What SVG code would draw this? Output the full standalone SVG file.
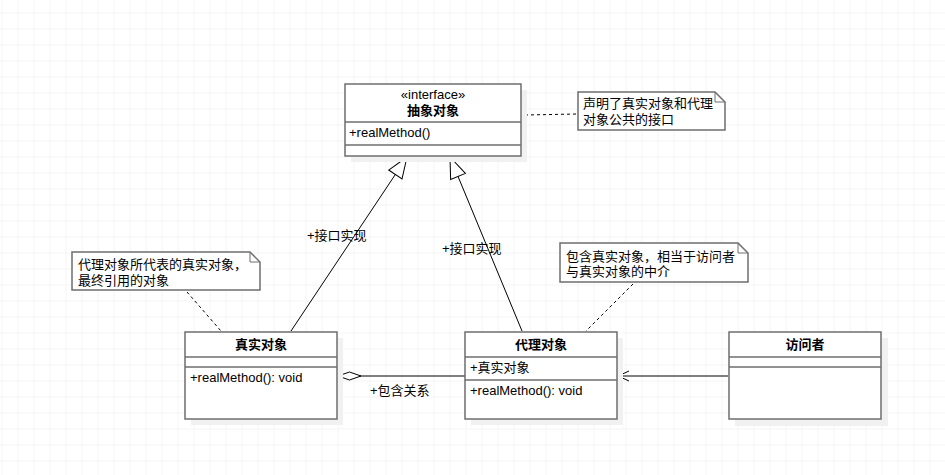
<svg xmlns="http://www.w3.org/2000/svg" width="945" height="475" viewBox="0 0 945 475">
<defs>
<pattern id="grid" x="1.5" y="12.5" width="16" height="16" patternUnits="userSpaceOnUse">
<path d="M0 0 V16 M0 0 H16" fill="none" stroke="#ebebeb" stroke-width="1"/>
</pattern>
<marker id="tri" markerWidth="24" markerHeight="18" refX="22" refY="9" orient="auto" markerUnits="userSpaceOnUse">
<path d="M1 1 L22 9 L1 17 Z" fill="#fff" stroke="#000" stroke-width="1"/>
</marker>
<marker id="open" markerWidth="14" markerHeight="12" refX="12" refY="6" orient="auto" markerUnits="userSpaceOnUse">
<path d="M1 1 L12 6 L1 11" fill="none" stroke="#000" stroke-width="1"/>
</marker>
<marker id="diamond" markerWidth="26" markerHeight="12" refX="24" refY="6" orient="auto" markerUnits="userSpaceOnUse">
<path d="M1 6 L12.5 2 L24 6 L12.5 10 Z" fill="#fff" stroke="#000" stroke-width="1"/>
</marker>
</defs>
<style>
text{font-family:"Liberation Sans","Noto Sans CJK SC",sans-serif;font-size:13px;fill:#000}
.b{font-weight:bold}
.c{text-anchor:middle}
.box{fill:#fff;stroke:#6e6e6e;stroke-width:1.5}
.sh{fill:#f1f1f1}
.div{stroke:#6e6e6e;stroke-width:1.5}
.note{fill:#fff;stroke:#6e6e6e;stroke-width:1.5}
.fold{fill:none;stroke:#6e6e6e;stroke-width:1}
.con{fill:none;stroke:#000;stroke-width:1}
.dash{fill:none;stroke:#000;stroke-width:1;stroke-dasharray:3 3}
</style>
<rect width="945" height="475" fill="#fff"/>
<rect width="945" height="475" fill="url(#grid)"/>

<g id="connectors">
<line class="con" x1="291" y1="331" x2="407" y2="157" marker-end="url(#tri)"/>
<line class="con" x1="522" y1="331" x2="450" y2="157" marker-end="url(#tri)"/>
<line class="con" x1="465" y1="376" x2="338" y2="376" marker-end="url(#diamond)"/>
<line class="con" x1="728" y1="376" x2="618" y2="376" marker-end="url(#open)"/>
<line class="dash" x1="525" y1="115" x2="578" y2="114"/>
<line class="dash" x1="187" y1="292" x2="221" y2="331"/>
<line class="dash" x1="633" y1="284" x2="586" y2="331"/>
<text x="307" y="240">+接口实现</text>
<text x="442" y="253">+接口实现</text>
<text x="370" y="395">+包含关系</text>
</g>

<g id="interface">
<rect class="sh" x="351" y="90" width="176" height="72"/>
<rect class="box" x="345" y="84" width="176" height="72"/>
<line class="div" x1="345" y1="122" x2="521" y2="122"/>
<line class="div" x1="345" y1="145" x2="521" y2="145"/>
<text class="c" x="433" y="99">«interface»</text>
<text class="c b" x="433" y="115">抽象对象</text>
<text x="349" y="137">+realMethod()</text>
</g>

<g id="note-interface">
<path class="note" d="M578 92 H715 L725 102 V130 H578 Z"/>
<path class="fold" d="M715 92 V102 H725"/>
<text x="583" y="108">声明了真实对象和代理</text>
<text x="583" y="124">对象公共的接口</text>
</g>

<g id="note-real">
<path class="note" d="M72 252 H250 L260 262 V290 H72 Z"/>
<path class="fold" d="M250 252 V262 H260"/>
<text x="78" y="269">代理对象所代表的真实对象，</text>
<text x="78" y="285">最终引用的对象</text>
</g>

<g id="note-proxy">
<path class="note" d="M560 243 H738 L748 253 V282 H560 Z"/>
<path class="fold" d="M738 243 V253 H748"/>
<text x="566" y="261">包含真实对象，相当于访问者</text>
<text x="566" y="276">与真实对象的中介</text>
</g>

<g id="real">
<rect class="sh" x="191" y="338" width="152" height="87"/>
<rect class="box" x="185" y="332" width="152" height="87"/>
<line class="div" x1="185" y1="357" x2="337" y2="357"/>
<line class="div" x1="185" y1="367" x2="337" y2="367"/>
<text class="c b" x="261" y="349">真实对象</text>
<text x="190" y="382">+realMethod(): void</text>
</g>

<g id="proxy">
<rect class="sh" x="471" y="338" width="152" height="87"/>
<rect class="box" x="465" y="332" width="152" height="87"/>
<line class="div" x1="465" y1="357" x2="617" y2="357"/>
<line class="div" x1="465" y1="380" x2="617" y2="380"/>
<text class="c b" x="541" y="349">代理对象</text>
<text x="470" y="372">+真实对象</text>
<text x="470" y="395">+realMethod(): void</text>
</g>

<g id="visitor">
<rect class="sh" x="735" y="338" width="153" height="88"/>
<rect class="box" x="729" y="332" width="152" height="87"/>
<line class="div" x1="729" y1="357" x2="881" y2="357"/>
<line class="div" x1="729" y1="367" x2="881" y2="367"/>
<text class="c b" x="805" y="349">访问者</text>
</g>
</svg>
